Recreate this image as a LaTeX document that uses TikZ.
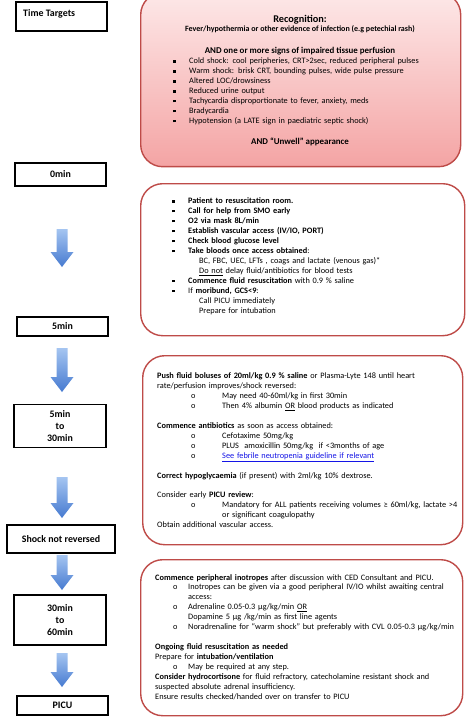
\documentclass[tikz,border=0pt]{standalone}
\usepackage{fontspec}
\setmainfont{Carlito}
\usetikzlibrary{positioning}
\definecolor{boxred}{RGB}{190,75,72}
\definecolor{pinktop}{RGB}{253,232,232}
\definecolor{pinkbot}{RGB}{244,164,164}
\definecolor{arrowtop}{RGB}{165,197,241}
\definecolor{arrowbot}{RGB}{70,122,208}
\definecolor{linkblue}{RGB}{20,20,230}
\newcommand\sqitem[1]{\makebox[16pt][l]{\rule[1.3pt]{2.4pt}{2.4pt}}#1}
\newcommand\oitem[3]{\hspace*{#1}\makebox[#2][l]{o}#3}

\begin{document}
\begin{tikzpicture}[
  x=1pt,y=-1pt,
  every node/.style={font=\fontsize{8.3}{9.95}\selectfont},
  timebox/.style={draw,line width=1.8pt,fill=white,inner sep=0pt,align=center,
    font=\fontsize{9.9}{11.7}\selectfont\bfseries},
  carebox/.style={draw=boxred,line width=1.4pt,rounded corners=22pt,inner sep=0pt,anchor=north west},
  steptext/.style={anchor=base west,inner sep=0pt,text width=315pt,align=left},
  blockarrow/.style={top color=arrowtop,bottom color=arrowbot,draw=none}
]
\clip (0,0) rectangle (474,722);
% time targets column
\node[timebox,anchor=north west,minimum width=91pt,minimum height=29pt] (tt) at (15,1) {};
\node[anchor=base west,inner sep=0pt,font=\fontsize{9.9}{11.7}\selectfont\bfseries] (tttext) at (23,16.5) {Time Targets};
\node[timebox,minimum width=91pt,minimum height=23pt] (t0) at (60.5,174.5) {0min};
\node[timebox,minimum width=91pt,minimum height=19pt] (t5) at (62.5,326.5) {5min};
\node[timebox,minimum width=92pt,minimum height=43pt] (t30) at (60,426) {5min\\to\\30min};
\node[timebox,minimum width=108pt,minimum height=28pt] (tshock) at (61,539) {Shock not reversed};
\node[timebox,minimum width=92pt,minimum height=50pt] (t60) at (60,620) {30min\\to\\60min};
\node[timebox,minimum width=91pt,minimum height=19pt] (tpicu) at (62.5,705.5) {PICU};
\foreach \t/\b in {229/267,348/392,477/518,555/590,653/687} {
  \path[blockarrow] (56.5,\t) -- (67.5,\t) -- (67.5,\b-15) -- (73.5,\b-15) -- (62,\b)
    -- (50.5,\b-15) -- (56.5,\b-15) -- cycle;
}
% recognition
\node[carebox,top color=pinktop,bottom color=pinkbot,minimum width=320pt,minimum height=174pt] (recog) at (140,-8) {};
\node[anchor=base,inner sep=0pt,font=\fontsize{10.3}{11}\selectfont\bfseries] (rtitle) at (300,22.5) {Recognition:};
\node[anchor=base,inner sep=0pt,font=\fontsize{8}{9.95}\selectfont\bfseries] (rfever) at (300,32) {Fever/hypothermia or other evidence of infection (e.g petechial rash)};
\node[anchor=base,inner sep=0pt,font=\fontsize{8.9}{10}\selectfont\bfseries] (rsigns) at (300,53.8) {AND one or more signs of impaired tissue perfusion};
\node[steptext] (rlist) at (173,64) {%
\sqitem{Cold shock: cool peripheries, CRT>2sec, reduced peripheral pulses}\\
\sqitem{Warm shock: brisk CRT, bounding pulses, wide pulse pressure}\\
\sqitem{Altered LOC/drowsiness}\\
\sqitem{Reduced urine output}\\
\sqitem{Tachycardia disproportionate to fever, anxiety, meds}\\
\sqitem{Bradycardia}\\
\sqitem{Hypotension (a LATE sign in paediatric septic shock)}};
\node[anchor=base,inner sep=0pt,font=\fontsize{8.9}{10}\selectfont\bfseries] (runwell) at (300,144.8) {AND “Unwell” appearance};
% 0 to 5 min
\node[carebox,fill=white,minimum width=324pt,minimum height=152pt] (resus) at (140,183) {};
\node[steptext] (resustext) at (172,203.8) {%
\sqitem{\textbf{Patient to resuscitation room.}}\\
\sqitem{\textbf{Call for help from SMO early}}\\
\sqitem{\textbf{O2 via mask 8L/min}}\\
\sqitem{\textbf{Establish vascular access (IV/IO, PORT)}}\\
\sqitem{\textbf{Check blood glucose level}}\\
\sqitem{\textbf{Take bloods once access obtained}:}\\
\hspace*{27pt}BC, FBC, UEC, LFTs , coags and lactate (venous gas)*\\
\hspace*{27pt}\underline{Do not} delay fluid/antibiotics for blood tests\\
\sqitem{\textbf{Commence fluid resuscitation} with 0.9 \% saline}\\
\sqitem{If \textbf{moribund, GCS<9}:}\\
\hspace*{27pt}Call PICU immediately\\
\hspace*{27pt}Prepare for intubation};
% 5 to 30 min
\node[carebox,fill=white,minimum width=320pt,minimum height=189pt] (fluids) at (142,355) {};
\node[steptext] (fluidstext) at (157,378.5) {%
\textbf{Push fluid boluses of 20ml/kg 0.9 \% saline} or Plasma-Lyte 148 until heart\\
rate/perfusion improves/shock reversed:\\
\oitem{34pt}{31pt}{May need 40-60ml/kg in first 30min}\\
\oitem{34pt}{31pt}{Then 4\% albumin \underline{OR} blood products as indicated}\\[9.95pt]
\textbf{Commence antibiotics} as soon as access obtained:\\
\oitem{34pt}{31pt}{Cefotaxime 50mg/kg}\\
\oitem{34pt}{31pt}{PLUS\ \ amoxicillin 50mg/kg\ \ if <3months of age}\\
\oitem{34pt}{31pt}{\textcolor{linkblue}{\underline{See febrile neutropenia guideline if relevant}}}\\[9.95pt]
\textbf{Correct hypoglycaemia} (if present) with 2ml/kg 10\% dextrose.\\[9.95pt]
Consider early \textbf{PICU review}:\\
\oitem{34pt}{31pt}{Mandatory for ALL patients receiving volumes ≥ 60ml/kg, lactate >4}\\
\hspace*{65pt}or significant coagulopathy\\
Obtain additional vascular access.};
% 30 to 60 min
\node[carebox,fill=white,minimum width=322pt,minimum height=156pt] (inotropes) at (140,559) {};
\node[steptext] (inotropestext) at (155,580) {%
\textbf{Commence peripheral inotropes} after discussion with CED Consultant and PICU.\\
\oitem{18pt}{15pt}{Inotropes can be given via a good peripheral IV/IO whilst awaiting central}\\
\hspace*{33pt}access:\\
\oitem{18pt}{15pt}{Adrenaline 0.05-0.3 μg/kg/min \underline{OR}}\\
\hspace*{33pt}Dopamine 5 μg /kg/min as first line agents\\
\oitem{18pt}{15pt}{Noradrenaline for “warm shock” but preferably with CVL 0.05-0.3 μg/kg/min}\\[9.95pt]
\textbf{Ongoing fluid resuscitation as needed}\\
Prepare for \textbf{intubation/ventilation}\\
\oitem{18pt}{15pt}{May be required at any step.}\\
\textbf{Consider hydrocortisone} for fluid refractory, catecholamine resistant shock and\\
suspected absolute adrenal insufficiency.\\
Ensure results checked/handed over on transfer to PICU};
\end{tikzpicture}
\end{document}
